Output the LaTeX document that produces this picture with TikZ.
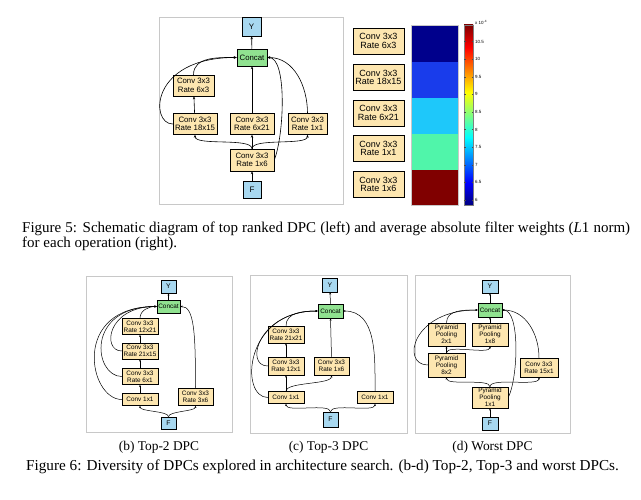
\documentclass[tikz,border=0pt]{standalone}
\usepackage{fontspec}
\setmainfont{Liberation Serif}
\setsansfont{Liberation Sans}
\usepackage{tikz}
\usepackage{xcolor}
\usetikzlibrary{
    arrows.meta,
    calc
}

\definecolor{opfill}{RGB}{253,230,176}
\definecolor{catfill}{RGB}{144,226,144}
\definecolor{iofill}{RGB}{168,216,240}
\definecolor{framegray}{RGB}{200,200,200}
\definecolor{wA}{RGB}{0,0,140}
\definecolor{wB}{RGB}{25,60,235}
\definecolor{wC}{RGB}{30,200,250}
\definecolor{wD}{RGB}{80,245,170}
\definecolor{wE}{RGB}{128,0,0}
\pgfdeclareverticalshading{jet}{100bp}{rgb(0bp)=(0,0,0.5); rgb(25bp)=(0,0,0.5); rgb(31.25bp)=(0,0,1); rgb(43.75bp)=(0,1,1); rgb(56.25bp)=(1,1,0); rgb(68.75bp)=(1,0,0); rgb(75bp)=(0.5,0,0); rgb(100bp)=(0.5,0,0)}

\begin{document}
\begin{tikzpicture}[x=1pt, y=1pt,
    box/.style={draw, inner sep=0pt, align=center, line width=0.5pt},
    opbig/.style={box, fill=opfill, minimum height=21pt, font=\sffamily\fontsize{7.8}{8.4}\selectfont},
    catbig/.style={box, fill=catfill, font=\sffamily\fontsize{7.8}{8.4}\selectfont},
    iobig/.style={box, fill=iofill, font=\sffamily\fontsize{8}{8}\selectfont},
    opsmall/.style={box, fill=opfill, font=\sffamily\fontsize{6.4}{6.9}\selectfont},
    catsmall/.style={box, fill=catfill, font=\sffamily\fontsize{6.4}{6.9}\selectfont},
    iosmall/.style={box, fill=iofill, font=\sffamily\fontsize{6.8}{6.8}\selectfont},
    wlabel/.style={draw, fill=opfill, line width=0.9pt, inner sep=0pt, align=center,
        minimum width=51pt, minimum height=26pt, font=\sffamily\fontsize{9}{8.8}\selectfont},
    ticklabel/.style={anchor=west, inner sep=0pt, font=\sffamily\fontsize{4.5}{4.5}\selectfont},
    panel/.style={draw=framegray, line width=0.9pt},
    link/.style={-{Stealth[length=3pt,width=2.4pt]}, line width=0.6pt},
    linksmall/.style={-{Stealth[length=2.3pt,width=1.9pt]}, line width=0.5pt},
    capline/.style={inner sep=0pt, anchor=base west, font=\fontsize{15}{16}\selectfont},
    subcap/.style={inner sep=0pt, anchor=base, font=\fontsize{13.4}{15}\selectfont}]
\path[fill=white, use as bounding box] (0,0) rectangle (641,-500);

% Figure 5, left: top ranked DPC
\draw[panel] (159,-17) rectangle (343,-204);
\node[iobig, minimum width=19pt, minimum height=19pt] (Ya) at (251.5,-26.5) {Y};
\node[catbig, minimum width=30pt, minimum height=17pt] (catA) at (252,-57.5) {Concat};
\node[opbig, minimum width=41pt] (a63) at (193.5,-85.5) {Conv 3x3\\Rate 6x3};
\node[opbig, minimum width=44pt] (a1815) at (195,-124) {Conv 3x3\\Rate 18x15};
\node[opbig, minimum width=44pt] (a621) at (252,-124) {Conv 3x3\\Rate 6x21};
\node[opbig, minimum width=39pt] (a11) at (307.5,-124) {Conv 3x3\\Rate 1x1};
\node[opbig, minimum width=44pt, minimum height=22pt] (a16) at (252,-160) {Conv 3x3\\Rate 1x6};
\node[iobig, minimum width=18pt, minimum height=17pt] (Fa) at (252,-189.5) {F};

\draw[link] (Fa) -- (a16);
\draw[link] (a16.north) -- (a621.south);
\draw[link] (a16.north) to[out=90, in=-90, looseness=0.5] (a1815.south);
\draw[link] (a16.north) to[out=90, in=-90, looseness=0.5] (a11.south);
\draw[link] (a1815) -- (a63);
\draw[link] (a63.north) to[out=90, in=180] (catA.west);
\draw[link] (a1815.west) .. controls +(-23,0) and +(-87,0) .. (catA.west);
\draw[link] (a621) -- (catA);
\draw[link] (a11.north) to[out=90, in=0] (catA.east);
\draw[link] (a16.east) .. controls +(10,25) and +(20,0) .. (catA.east);
\draw[link] (catA) -- (Ya);

% Figure 5, right: filter weights
\node[wlabel] (w63) at (378.5,-41) {Conv 3x3\\Rate 6x3};
\node[wlabel] (w1815) at (378.5,-77.5) {Conv 3x3\\Rate 18x15};
\node[wlabel] (w621) at (378.5,-113) {Conv 3x3\\Rate 6x21};
\node[wlabel] (w11) at (378.5,-148.5) {Conv 3x3\\Rate 1x1};
\node[wlabel] (w16) at (378.5,-184.5) {Conv 3x3\\Rate 1x6};

\fill[wA] (411,-25) rectangle (458,-62);
\fill[wB] (411,-62) rectangle (458,-98);
\fill[wC] (411,-98) rectangle (458,-134);
\fill[wD] (411,-134) rectangle (458,-170);
\fill[wE] (411,-170) rectangle (458,-205);
\draw[framegray, line width=0.7pt] (411,-25) rectangle (458,-205);

\shade[shading=jet] (464,-25) rectangle (473,-205);
\draw[gray, line width=0.6pt] (464,-25) rectangle (473,-205);
\foreach \v [count=\i from 0] in {6,6.5,7,7.5,8,8.5,9,9.5,10,10.5} {
    \draw[black!70, line width=0.3pt] (464,{-200+17.6*\i}) -- ++(1.5,0)
        (473,{-200+17.6*\i}) -- ++(-1.5,0);
    \node[ticklabel] (tk\i) at (475,{-200+17.6*\i}) {\v};
}
\node[ticklabel] (scale) at (475,-22) {x 10\textsuperscript{-4}};

\node[capline] (cap5a) at (22,-232.3) {\makebox[608pt][s]{Figure 5: Schematic diagram of top ranked DPC (left) and average absolute filter weights (\textit{L}1 norm)}};
\node[capline] (cap5b) at (22,-248) {for each operation (right).};

% Figure 6 (b): Top-2 DPC
\draw[panel] (86,-276) rectangle (232,-432);
\node[iosmall, minimum width=15pt, minimum height=13pt] (Yb) at (168.5,-286.5) {Y};
\node[catsmall, minimum width=23pt, minimum height=13pt] (catB) at (168.5,-306.5) {Concat};
\node[opsmall, minimum width=36pt, minimum height=16pt] (b1221) at (140,-326.5) {Conv 3x3\\Rate 12x21};
\node[opsmall, minimum width=36pt, minimum height=16pt] (b2115) at (140,-351) {Conv 3x3\\Rate 21x15};
\node[opsmall, minimum width=36pt, minimum height=16pt] (b61) at (140,-376.5) {Conv 3x3\\Rate 6x1};
\node[opsmall, minimum width=36pt, minimum height=12pt] (b11) at (140,-399.5) {Conv 1x1};
\node[opsmall, minimum width=35pt, minimum height=17pt] (b36) at (195.5,-397) {Conv 3x3\\Rate 3x6};
\node[iosmall, minimum width=15pt, minimum height=12pt] (Fb) at (168.5,-423) {F};

\draw[linksmall] (Fb.north) to[out=90, in=-90, looseness=0.5] (b11.south);
\draw[linksmall] (Fb.north) to[out=90, in=-90, looseness=0.5] (b36.south);
\draw[linksmall] (b11) -- (b61);
\draw[linksmall] (b61) -- (b2115);
\draw[linksmall] (b2115) -- (b1221);
\draw[linksmall] (b1221.north) to[out=90, in=180] (catB.west);
\draw[linksmall] (b2115.west) .. controls +(-20,0) and +(-50,0) .. (catB.west);
\draw[linksmall] (b61.west) .. controls +(-28,0) and +(-72,0) .. (catB.west);
\draw[linksmall] (b11.west) .. controls +(-33,0) and +(-86,0) .. (catB.west);
\draw[linksmall] (b36.north) .. controls +(0,55) and +(14,0) .. (catB.east);
\draw[linksmall] (catB) -- (Yb);
\node[subcap] (capb) at (159,-450.7) {(b) Top-2 DPC};

% Figure 6 (c): Top-3 DPC
\draw[panel] (250,-275) rectangle (407,-433);
\node[iosmall, minimum width=15pt, minimum height=14pt] (Yc) at (330,-285) {Y};
\node[catsmall, minimum width=25pt, minimum height=14pt] (catC) at (330.5,-311) {Concat};
\node[opsmall, minimum width=36pt, minimum height=17pt] (c2121) at (286,-334.5) {Conv 3x3\\Rate 21x21};
\node[opsmall, minimum width=36pt, minimum height=18pt] (c121) at (286,-366) {Conv 3x3\\Rate 12x1};
\node[opsmall, minimum width=35pt, minimum height=18pt] (c16) at (331.5,-366) {Conv 3x3\\Rate 1x6};
\node[opsmall, minimum width=36pt, minimum height=12pt] (c11l) at (286,-397.5) {Conv 1x1};
\node[opsmall, minimum width=36pt, minimum height=12pt] (c11r) at (375,-397.5) {Conv 1x1};
\node[iosmall, minimum width=15pt, minimum height=15pt] (Fc) at (330.5,-419.5) {F};

\draw[linksmall] (Fc.north) to[out=90, in=-90, looseness=0.5] (c11l.south);
\draw[linksmall] (Fc.north) to[out=90, in=-90, looseness=0.5] (c11r.south);
\draw[linksmall] (c11l) -- (c121);
\draw[linksmall] (c11l.north) to[out=90, in=-90, looseness=0.5] (c16.south);
\draw[linksmall] (c121) -- (c2121);
\draw[linksmall] (c2121.north) to[out=90, in=180] (catC.west);
\draw[linksmall] (c121.west) .. controls +(-24,0) and +(-59,0) .. (catC.west);
\draw[linksmall] (c11l.west) .. controls +(-28,0) and +(-74,0) .. (catC.west);
\draw[linksmall] (c16.north) -- (catC.south);
\draw[linksmall] (c11r.north) to[out=90, in=0] (catC.east);
\draw[linksmall] (catC) -- (Yc);
\node[subcap] (capc) at (328.5,-450.7) {(c) Top-3 DPC};

% Figure 6 (d): worst DPC
\draw[panel] (415,-275) rectangle (570,-433);
\node[iosmall, minimum width=16pt, minimum height=13pt] (Yd) at (490,-286.5) {Y};
\node[catsmall, minimum width=24pt, minimum height=14pt] (catD) at (490,-310) {Concat};
\node[opsmall, minimum width=37pt, minimum height=23pt] (d21) at (446.5,-334.5) {Pyramid\\Pooling\\2x1};
\node[opsmall, minimum width=36pt, minimum height=23pt] (d18) at (490,-334.5) {Pyramid\\Pooling\\1x8};
\node[opsmall, minimum width=37pt, minimum height=24pt] (d82) at (446.5,-365) {Pyramid\\Pooling\\8x2};
\node[opsmall, minimum width=38pt, minimum height=19pt] (d151) at (539,-367.5) {Conv 3x3\\Rate 15x1};
\node[opsmall, minimum width=36pt, minimum height=21pt] (d11) at (490,-397.5) {Pyramid\\Pooling\\1x1};
\node[iosmall, minimum width=16pt, minimum height=13pt] (Fd) at (490,-423.5) {F};

\draw[linksmall] (Fd) -- (d11);
\draw[linksmall] (d11.north) to[out=90, in=-90, looseness=0.5] (d82.south);
\draw[linksmall] (d11.north) to[out=90, in=-90, looseness=0.5] (d151.south);
\draw[linksmall] (d82) -- (d21);
\draw[linksmall] (d82.north) to[out=90, in=-90, looseness=0.5] (d18.south);
\draw[linksmall] (d21.north) to[out=90, in=180] (catD.west);
\draw[linksmall] (d82.west) .. controls +(-27,0) and +(-66,0) .. (catD.west);
\draw[linksmall] (d18) -- (catD);
\draw[linksmall] (d151.north) to[out=90, in=0] (catD.east);
\draw[linksmall] (d11.east) .. controls +(10,20) and +(18,0) .. (catD.east);
\draw[linksmall] (catD) -- (Yd);
\node[subcap] (capd) at (492.5,-450.7) {(d) Worst DPC};

\node[capline, font=\fontsize{15.2}{16}\selectfont] (cap6) at (26,-470.7) {Figure 6: Diversity of DPCs explored in architecture search. (b-d) Top-2, Top-3 and worst DPCs.};
\end{tikzpicture}
\end{document}
